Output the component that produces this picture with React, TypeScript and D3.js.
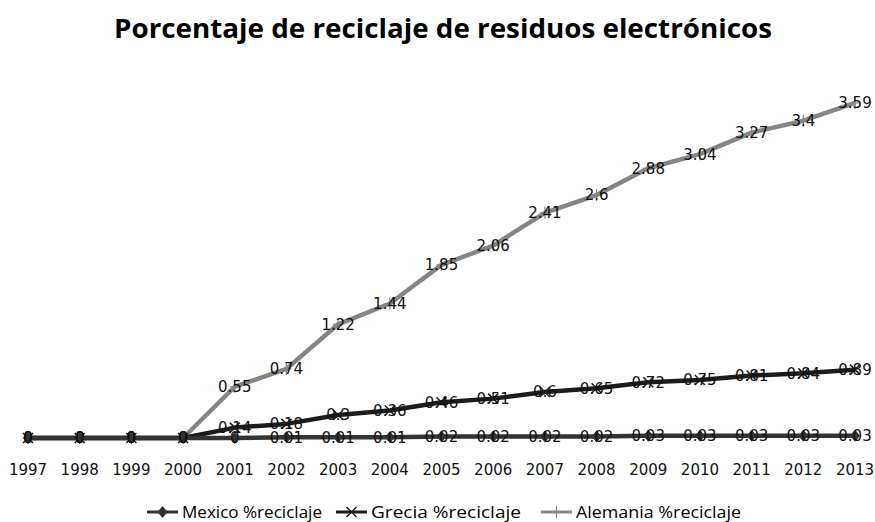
import React, { useEffect, useRef } from 'react';
import * as d3 from 'd3';

const years = ['1997', '1998', '1999', '2000', '2001', '2002', '2003', '2004', '2005', '2006', '2007', '2008', '2009', '2010', '2011', '2012', '2013'];
const mexico = [0, 0, 0, 0, 0, 0.01, 0.01, 0.01, 0.02, 0.02, 0.02, 0.02, 0.03, 0.03, 0.03, 0.03, 0.03];
const grecia = [0, 0, 0, 0, 0.14, 0.18, 0.3, 0.36, 0.46, 0.51, 0.6, 0.65, 0.72, 0.75, 0.81, 0.84, 0.89];
const alemania = [0, 0, 0, 0, 0.55, 0.74, 1.22, 1.44, 1.85, 2.06, 2.41, 2.6, 2.88, 3.04, 3.27, 3.4, 3.59];
const seriesNames = ['Mexico %reciclaje', 'Grecia %reciclaje', 'Alemania %reciclaje'];

const App: React.FC = () => {
  const svgRef = useRef<SVGSVGElement>(null);

  useEffect(() => {
    if (!svgRef.current) return;
    const width = 875;
    const height = 522;
    const svg = d3.select(svgRef.current);
    svg.selectAll('*').remove();

    svg.append('rect').attr('width', width).attr('height', height).attr('fill', '#ffffff');

    // stacked line chart (Excel "línea apilada")
    const rows = years.map((y, i) => ({ year: y, m: mexico[i], g: grecia[i], a: alemania[i] }));
    const stacked = d3.stack<any>().keys(['m', 'g', 'a'])(rows);

    const x = d3.scalePoint().domain(years).range([28, 855]);
    const y = d3.scaleLinear().domain([0, 5]).range([438, 66.5]);

    const colors = ['#333333', '#1c1c1c', '#858585'];
    const raw = [mexico, grecia, alemania];

    const line = d3.line<any>()
      .x(d => x(d.data.year) as number)
      .y(d => y(d[1]));

    const marker = (g: any, type: number, cx: number, cy: number) => {
      if (type === 0) {
        g.append('path')
          .attr('d', `M${cx},${cy - 6}L${cx + 5},${cy}L${cx},${cy + 6}L${cx - 5},${cy}Z`)
          .attr('fill', colors[0]);
      } else if (type === 1) {
        g.append('path')
          .attr('d', `M${cx - 5},${cy - 5}L${cx + 5},${cy + 5}M${cx - 5},${cy + 5}L${cx + 5},${cy - 5}`)
          .attr('stroke', colors[1]).attr('stroke-width', 1.5).attr('fill', 'none');
      } else {
        g.append('path')
          .attr('d', `M${cx - 5},${cy}L${cx + 5},${cy}M${cx},${cy - 6}L${cx},${cy + 6}`)
          .attr('stroke', colors[2]).attr('stroke-width', 1.2).attr('fill', 'none');
      }
    };

    // top series first so the lower ones sit above where they overlap
    [2, 1, 0].forEach(si => {
      const s = stacked[si];
      svg.append('path')
        .datum(s)
        .attr('fill', 'none')
        .attr('stroke', colors[si])
        .attr('stroke-width', 4.5)
        .attr('stroke-linejoin', 'round')
        .attr('d', line);
      const g = svg.append('g');
      s.forEach((d: any) => marker(g, si, x(d.data.year) as number, y(d[1])));
    });

    // data labels
    [2, 1, 0].forEach(si => {
      stacked[si].forEach((d: any, i: number) => {
        svg.append('text')
          .attr('x', x(d.data.year) as number)
          .attr('y', y(d[1]))
          .attr('dy', '0.36em')
          .attr('text-anchor', 'middle')
          .attr('font-family', 'DejaVu Sans, sans-serif')
          .attr('font-size', 15)
          .attr('fill', '#111111')
          .text(String(raw[si][i]));
      });
    });

    // year labels
    years.forEach(yr => {
      svg.append('text')
        .attr('x', x(yr) as number)
        .attr('y', 475)
        .attr('text-anchor', 'middle')
        .attr('font-family', 'DejaVu Sans, sans-serif')
        .attr('font-size', 15)
        .attr('fill', '#111111')
        .text(yr);
    });

    // title
    svg.append('text')
      .attr('x', 443)
      .attr('y', 38)
      .attr('text-anchor', 'middle')
      .attr('font-family', 'Open Sans, sans-serif')
      .attr('font-weight', 700)
      .attr('font-size', 27)
      .attr('textLength', 658)
      .attr('lengthAdjust', 'spacingAndGlyphs')
      .attr('fill', '#000000')
      .text('Porcentaje de reciclaje de residuos electrónicos');

    // legend
    const legX = [147, 336, 541];
    const legW = [140, 150, 165];
    seriesNames.forEach((name, i) => {
      const lx = legX[i];
      const ly = 512;
      svg.append('line')
        .attr('x1', lx).attr('x2', lx + 31).attr('y1', ly).attr('y2', ly)
        .attr('stroke', colors[i]).attr('stroke-width', 3);
      marker(svg, i, lx + 15.5, ly);
      svg.append('text')
        .attr('x', lx + 35)
        .attr('y', ly + 5.5)
        .attr('font-family', 'Open Sans, sans-serif')
        .attr('font-size', 16)
        .attr('textLength', legW[i])
        .attr('lengthAdjust', 'spacingAndGlyphs')
        .attr('fill', '#000000')
        .text(name);
    });
  }, []);

  return (
    <svg
      ref={svgRef}
      width={875}
      height={522}
      style={{ position: 'absolute', left: 0, top: 0, display: 'block' }}
    />
  );
};

export default App;
